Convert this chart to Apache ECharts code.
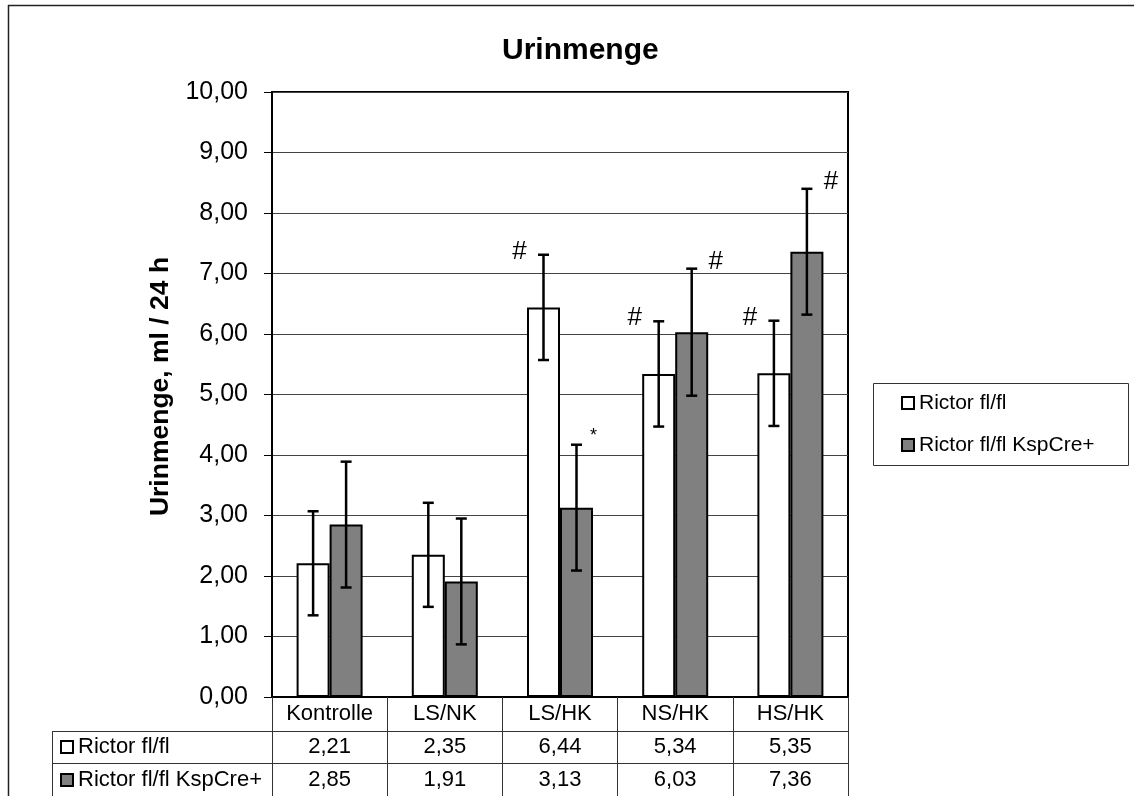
<!DOCTYPE html>
<html>
<head>
<meta charset="utf-8">
<script src="https://cdn.jsdelivr.net/npm/echarts@6/dist/echarts.min.js"></script>
<style>
  html, body { margin: 0; padding: 0; background: #fff; }
  #chart { width: 1134px; height: 796px; }
</style>
</head>
<body>
<div id="chart"></div>
<script>
// Urine volume per 24 h, two genotypes across five diet groups
const categories = ['Kontrolle', 'LS/NK', 'LS/HK', 'NS/HK', 'HS/HK'];
const seriesNames = ['Rictor fl/fl', 'Rictor fl/fl KspCre+'];
const rictorValues = [2.21, 2.35, 6.44, 5.34, 5.35];
const kspValues = [2.85, 1.91, 3.13, 6.03, 7.36];
const rictorErrors = [0.86, 0.86, 0.87, 0.87, 0.87];
const kspErrors = [1.04, 1.04, 1.04, 1.05, 1.04];
const rictorMarks = ['', '', '#', '#', '#'];
const kspMarks = ['', '', '*', '#', '#'];

const FONT = '"Liberation Sans", Arial, sans-serif';
const BAR_W = 33;
const fmt = v => v.toFixed(2).replace('.', ',');

const chart = echarts.init(document.getElementById('chart'), null, { renderer: 'canvas' });

// Error bars plus significance marks, drawn on top of each bar
function errorSeries(name, values, errors, marks, side) {
  return {
    type: 'custom',
    name: name,
    z: 5,
    data: values.map((v, i) => [i, v, errors[i]]),
    encode: { x: 0, y: 1 },
    renderItem(params, api) {
      const idx = api.value(0);
      const v = api.value(1);
      const e = api.value(2);
      const x = api.coord([idx, v])[0] + side * BAR_W / 2;
      const hi = api.coord([idx, v + e])[1];
      const lo = api.coord([idx, v - e])[1];
      const st = { stroke: '#000', lineWidth: 2.5 };
      const children = [
        { type: 'line', shape: { x1: x, y1: hi, x2: x, y2: lo }, style: st },
        { type: 'line', shape: { x1: x - 5.5, y1: hi, x2: x + 5.5, y2: hi }, style: st },
        { type: 'line', shape: { x1: x - 5.5, y1: lo, x2: x + 5.5, y2: lo }, style: st }
      ];
      const mark = marks[params.dataIndex];
      if (mark) {
        const star = mark === '*';
        children.push({
          type: 'text',
          style: {
            text: mark,
            x: x + side * (star ? 17 : 24),
            y: hi + (star ? -9 : (side < 0 ? -3 : -7)),
            font: (star ? '18px ' : '26px ') + FONT,
            fill: '#000',
            align: 'center',
            verticalAlign: 'middle'
          }
        });
      }
      return { type: 'group', children: children };
    }
  };
}

const legendCommon = {
  orient: 'vertical',
  icon: 'rect',
  itemWidth: 12,
  itemHeight: 12,
  selectedMode: false,
  data: [
    { name: seriesNames[0], itemStyle: { color: '#fff', borderColor: '#000', borderWidth: 2 } },
    { name: seriesNames[1], itemStyle: { color: '#808080', borderColor: '#000', borderWidth: 2 } }
  ]
};

chart.setOption({
  animation: false,
  backgroundColor: '#fff',
  title: {
    text: 'Urinmenge',
    left: 502,
    top: 36,
    padding: 0,
    textStyle: { fontFamily: FONT, fontSize: 30, fontWeight: 'bold', color: '#000' }
  },
  legend: [
    Object.assign({}, legendCommon, {
      left: 901,
      top: 392,
      padding: 0,
      itemGap: 20,
      textStyle: { fontFamily: FONT, fontSize: 21, color: '#000', lineHeight: 22 }
    }),
    Object.assign({}, legendCommon, {
      left: 60,
      top: 736,
      padding: 0,
      itemGap: 11,
      textStyle: { fontFamily: FONT, fontSize: 22, color: '#000', lineHeight: 22 }
    })
  ],
  grid: {
    left: 272,
    top: 92,
    width: 576,
    height: 605,
    show: true,
    borderColor: '#000',
    borderWidth: 2,
    backgroundColor: 'transparent'
  },
  xAxis: {
    type: 'category',
    data: categories,
    axisLine: { show: true, lineStyle: { color: '#000', width: 2 } },
    axisTick: { show: true, length: 99, lineStyle: { color: '#333', width: 1 } },
    axisLabel: {
      interval: 0,
      margin: 0,
      fontFamily: FONT,
      fontSize: 22,
      lineHeight: 33,
      color: '#000',
      formatter: (value, i) => value + '\n' + fmt(rictorValues[i]) + '\n' + fmt(kspValues[i])
    },
    splitLine: { show: false }
  },
  yAxis: {
    type: 'value',
    min: 0,
    max: 10,
    interval: 1,
    name: 'Urinmenge, ml / 24 h',
    nameLocation: 'middle',
    nameGap: 96,
    nameTextStyle: { fontFamily: FONT, fontSize: 26.5, fontWeight: 'bold', color: '#000', padding: [0, 0, 0, 16] },
    axisLine: { show: true, lineStyle: { color: '#000', width: 2 } },
    axisTick: { show: true, length: 8, lineStyle: { color: '#000', width: 1 } },
    axisLabel: { margin: 24, fontFamily: FONT, fontSize: 25, color: '#000', formatter: v => fmt(v) },
    splitLine: { show: true, lineStyle: { color: '#444', width: 1 } }
  },
  series: [
    {
      type: 'bar',
      name: seriesNames[0],
      data: rictorValues,
      barWidth: BAR_W,
      barGap: '0%',
      itemStyle: { color: '#fff', borderColor: '#000', borderWidth: 2 }
    },
    {
      type: 'bar',
      name: seriesNames[1],
      data: kspValues,
      barWidth: BAR_W,
      barGap: '0%',
      itemStyle: { color: '#808080', borderColor: '#000', borderWidth: 2 }
    },
    errorSeries('err-rictor', rictorValues, rictorErrors, rictorMarks, -1),
    errorSeries('err-ksp', kspValues, kspErrors, kspMarks, 1)
  ],
  graphic: [
    // outer frame (left and top edges)
    { type: 'line', shape: { x1: 8.5, y1: 5, x2: 8.5, y2: 796 }, style: { stroke: '#222', lineWidth: 1.5 } },
    { type: 'line', shape: { x1: 8, y1: 5.5, x2: 1134, y2: 5.5 }, style: { stroke: '#222', lineWidth: 1.5 } },
    // data table rules
    { type: 'line', shape: { x1: 52, y1: 731.5, x2: 848, y2: 731.5 }, style: { stroke: '#333', lineWidth: 1 } },
    { type: 'line', shape: { x1: 52, y1: 763.5, x2: 848, y2: 763.5 }, style: { stroke: '#333', lineWidth: 1 } },
    { type: 'line', shape: { x1: 52.5, y1: 731, x2: 52.5, y2: 796 }, style: { stroke: '#333', lineWidth: 1 } },
    // legend frame
    { type: 'rect', shape: { x: 873.5, y: 383.5, width: 255, height: 82 }, style: { fill: 'none', stroke: '#333', lineWidth: 1 } }
  ]
});
</script>
</body>
</html>
